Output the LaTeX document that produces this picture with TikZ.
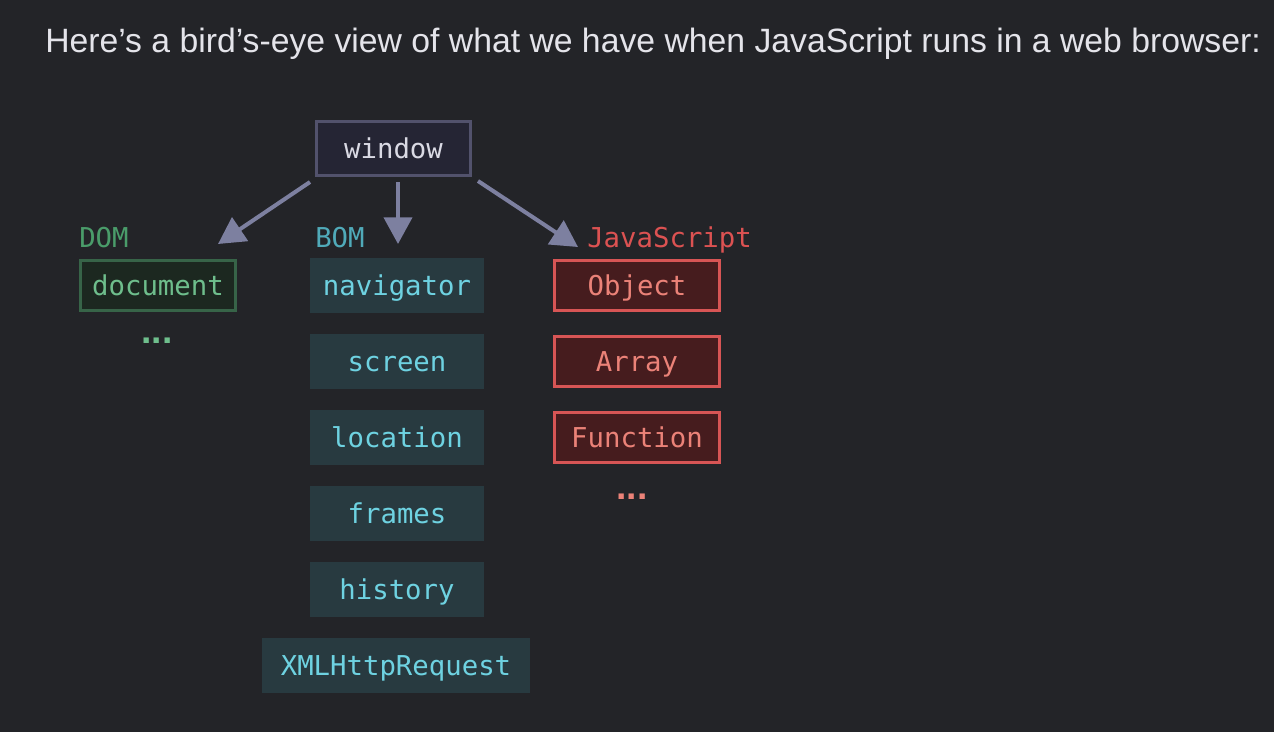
\documentclass[tikz,border=0pt]{standalone}
\usepackage{fontspec}
\setmainfont{Liberation Sans}
\setmonofont{DejaVu Sans Mono}
\usepackage{tikz}
\usetikzlibrary{arrows.meta,positioning}
\definecolor{bgdark}{RGB}{35,36,40}
\definecolor{titletext}{RGB}{228,228,234}
\definecolor{winfill}{RGB}{37,37,52}
\definecolor{winline}{RGB}{82,82,108}
\definecolor{wintext}{RGB}{218,218,228}
\definecolor{arrowcol}{RGB}{125,128,160}
\definecolor{domlabel}{RGB}{74,156,106}
\definecolor{domfill}{RGB}{28,40,32}
\definecolor{domline}{RGB}{55,100,72}
\definecolor{domtext}{RGB}{110,190,140}
\definecolor{bomlabel}{RGB}{80,170,185}
\definecolor{bomfill}{RGB}{40,58,64}
\definecolor{bomtext}{RGB}{110,210,225}
\definecolor{jslabel}{RGB}{220,82,82}
\definecolor{jsfill}{RGB}{70,28,30}
\definecolor{jsline}{RGB}{215,85,85}
\definecolor{jstext}{RGB}{235,130,120}

\begin{document}
\begin{tikzpicture}[x=0.75pt,y=-0.75pt,
    code/.style={font=\ttfamily\fontsize{20.5}{24}\selectfont,inner sep=0pt},
    boxtext/.style={code,text height=15pt,text depth=0pt},
    winbox/.style={boxtext,draw=winline,fill=winfill,line width=2.25pt,text=wintext,
      minimum width=115.5pt,minimum height=40.5pt},
    dombox/.style={boxtext,draw=domline,fill=domfill,line width=2.25pt,text=domtext,
      minimum width=116.25pt,minimum height=37.5pt},
    bombox/.style={boxtext,fill=bomfill,text=bomtext,minimum width=130.5pt,minimum height=41.25pt},
    jsbox/.style={boxtext,draw=jsline,fill=jsfill,line width=2.25pt,text=jstext,
      minimum width=123.75pt,minimum height=37.5pt},
    dots/.style={font=\bfseries\fontsize{28}{30}\selectfont,inner sep=0pt},
    link/.style={draw=arrowcol,line width=3pt,-{Triangle[length=20pt,width=21pt]}}]
  \fill[bgdark] (0,0) rectangle (1274,732);
  \useasboundingbox (0,0) rectangle (1274,732);

  \node[anchor=base west,inner sep=0pt,text=titletext,font=\fontsize{25.3}{29}\selectfont] (title) at (45,52)
    {Here’s a bird’s-eye view of what we have when JavaScript runs in a web browser:};

  \node[winbox] (window) at (393.5,148.5) {window};

  % DOM
  \node[code,anchor=base west,text=domlabel] (domlab) at (79,247) {DOM};
  \node[dombox] (document) at (158,285.5) {document};
  \node[dots,text=domtext] (domdots) at (157,341) {...};

  % BOM
  \node[code,anchor=base west,text=bomlabel] (bomlab) at (315,247) {BOM};
  \foreach \name/\y in {navigator/285.5,screen/361.5,location/437.5,frames/513.5,history/589.5}
    \node[bombox] (\name) at (397,\y) {\name};
  \node[bombox,minimum width=201pt] (xhr) at (396,665.5) {XMLHttpRequest};

  % JavaScript
  \node[code,anchor=base west,text=jslabel] (jslab) at (587,247) {JavaScript};
  \foreach \name/\y in {Object/285.5,Array/361.5,Function/437.5}
    \node[jsbox] (\name) at (637,\y) {\name};
  \node[dots,text=jstext] (jsdots) at (632,497) {...};

  \coordinate (domtip) at (218,244);
  \coordinate (bomtip) at (398,244);
  \coordinate (jstip) at (578,247);
  \draw[link] ([shift={(-5,5)}]window.south west) -- (domtip);
  \draw[link] ([shift={(4.5,5)}]window.south) -- (bomtip);
  \draw[link] ([shift={(6,4)}]window.south east) -- (jstip);
\end{tikzpicture}
\end{document}
